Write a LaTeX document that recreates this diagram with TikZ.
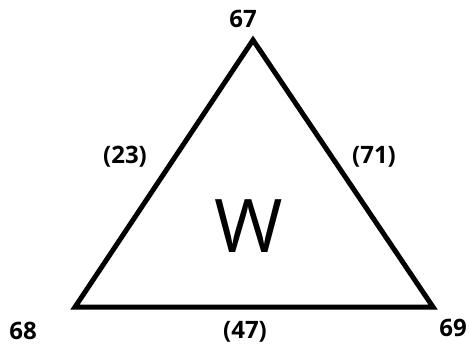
\documentclass[tikz,border=0pt]{standalone}
\usepackage{fontspec}
\setmainfont{Open Sans}
\usepackage{tikz}
\usetikzlibrary{positioning}

\begin{document}
\begin{tikzpicture}[
  x=1pt,y=-1pt,
  side/.style ={draw,line width=5pt,line join=miter},
  vlbl/.style ={font=\fontsize{24}{24}\selectfont\bfseries,inner sep=0pt},
  elbl/.style ={font=\fontsize{24}{24}\selectfont\bfseries,inner sep=0pt},
  big/.style  ={font=\fontsize{74}{74}\selectfont,inner sep=0pt}
]
\useasboundingbox (0,0) rectangle (470,353);

%% Corners of the triangle
\coordinate (top) at (253,40);
\coordinate (bl)  at (75,307);
\coordinate (br)  at (433,307);

\draw[side] (top) -- (bl) -- (br) -- cycle;

%% Corner numbers
\node[vlbl] (n67) at (243,19)  {67};
\node[vlbl] (n68) at (23,331)  {68};
\node[vlbl] (n69) at (453,328) {69};

%% Edge weights
\node[elbl] (e23) at (125,157) {(23)};
\node[elbl] (e71) at (374,157) {(71)};
\node[elbl] (e47) at (245,332) {(47)};

%% Face label
\node[big] (face) at (249,226) {W};
\end{tikzpicture}
\end{document}
